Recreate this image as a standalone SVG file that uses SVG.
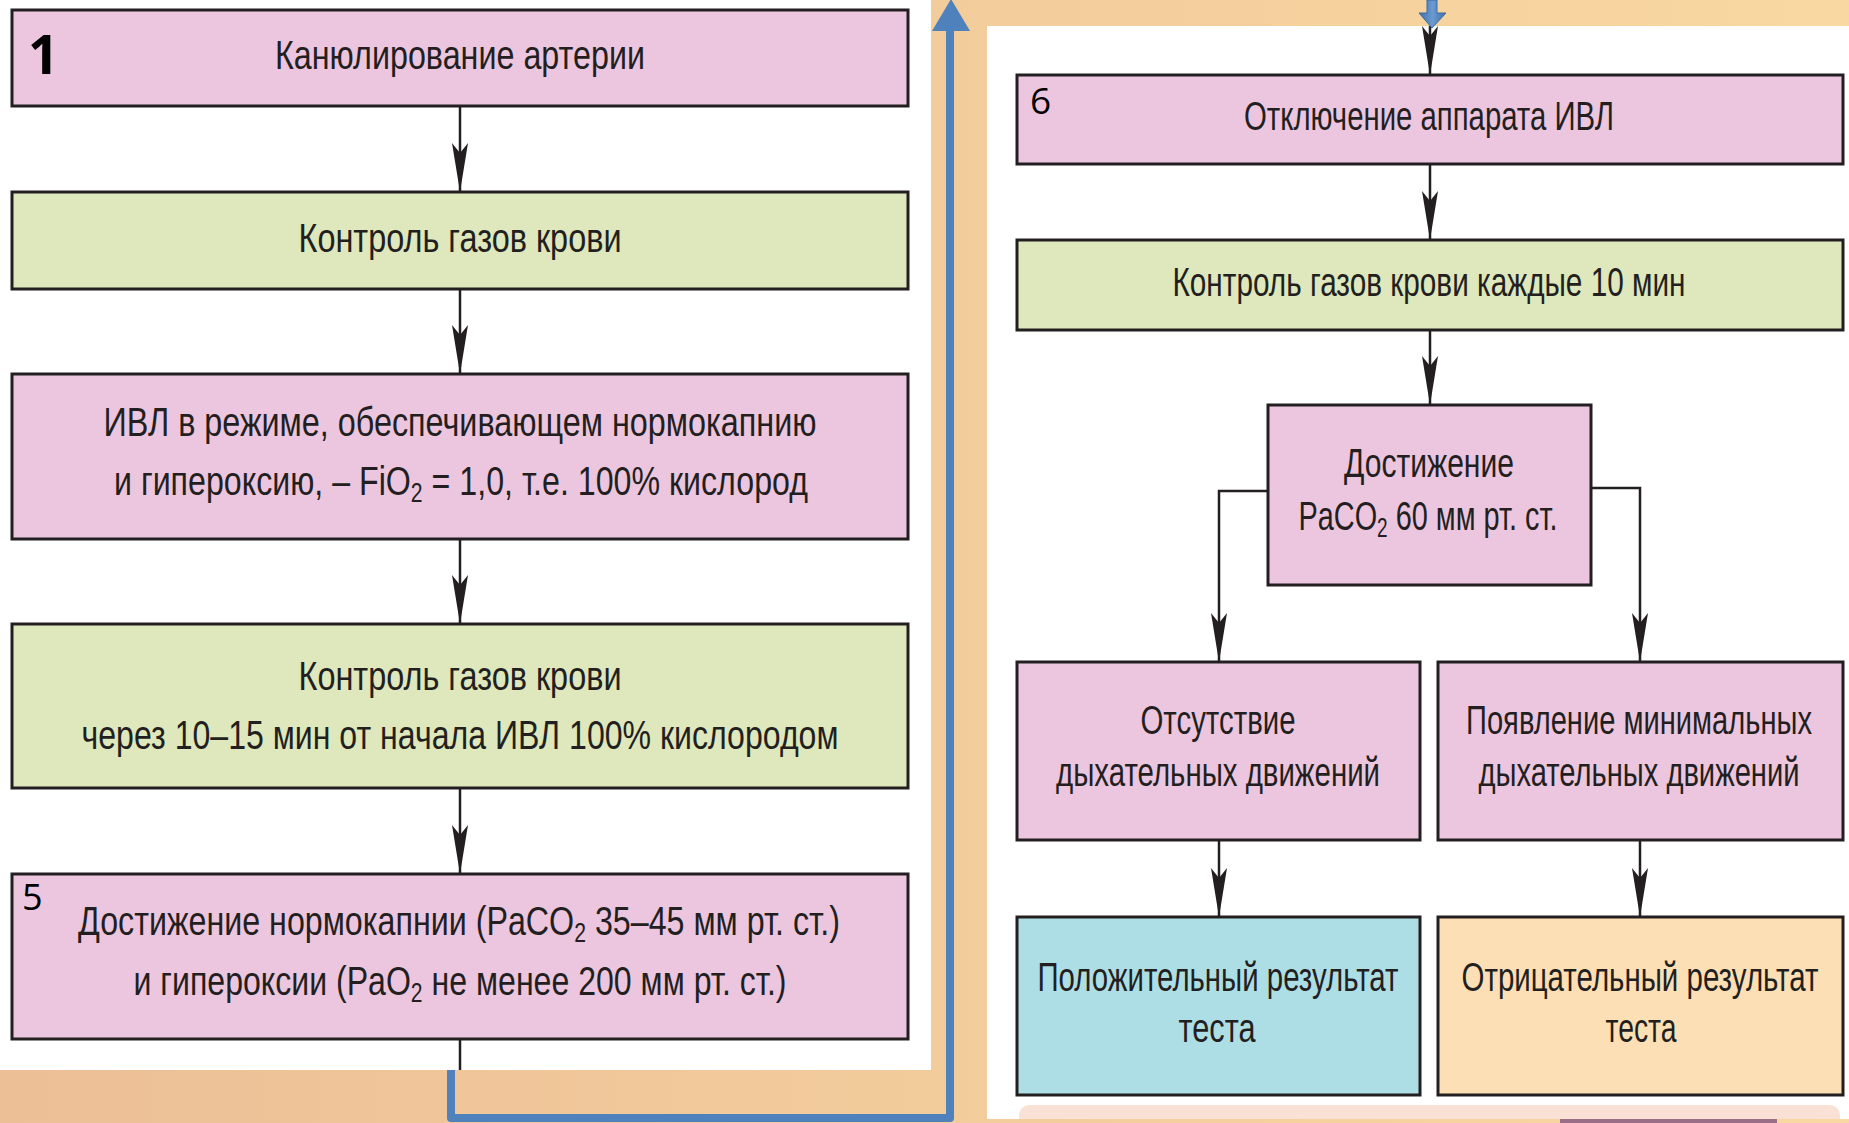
<svg xmlns="http://www.w3.org/2000/svg" width="1849" height="1123" viewBox="0 0 1849 1123">
<defs>
<linearGradient id="bg" x1="0" y1="0" x2="1" y2="0">
<stop offset="0" stop-color="#ECBF96"/>
<stop offset="1" stop-color="#F9D8A1"/>
</linearGradient>
<linearGradient id="blueg" x1="0" y1="0" x2="1" y2="0">
<stop offset="0" stop-color="#3F6FA8"/>
<stop offset="0.5" stop-color="#6A9AD0"/>
<stop offset="1" stop-color="#3F6FA8"/>
</linearGradient>
<marker id="ahv" markerWidth="16" markerHeight="50" refX="8" refY="49" orient="0" markerUnits="userSpaceOnUse" viewBox="0 0 16 50">
<path d="M8,49 L0,0 L8,10 L16,0 Z" fill="#231F20"/>
</marker>
</defs>
<style>
.box{stroke:#231F20;stroke-width:3}
.pink{fill:#ECC6DF}
.green{fill:#DEE8BC}
.cyan{fill:#ADDEE6}
.peach{fill:#FCDFB4}
.t{font-family:"Liberation Sans",Arial,sans-serif;font-size:41px;fill:#231F20;text-anchor:middle}
.sub{font-size:27px}
.num{font-family:"Open Sans","Liberation Sans",sans-serif;fill:#000}
.ln{stroke:#231F20;stroke-width:2.5;fill:none}
</style>

<rect x="0" y="0" width="1849" height="1123" fill="url(#bg)"/>
<rect x="0" y="0" width="931" height="1070" fill="#FFFFFF"/>
<rect x="987" y="26" width="862" height="1093" fill="#FFFFFF"/>
<path d="M1019,1119 V1117 Q1019,1105 1031,1105 H1828 Q1840,1105 1840,1117 V1119 Z" fill="#FAE1D5"/>
<rect x="1560" y="1119" width="217" height="4" fill="#9A6E86"/>

<g id="connectors">
<line class="ln" x1="460" y1="106" x2="460" y2="192" marker-end="url(#ahv)"/>
<line class="ln" x1="460" y1="289" x2="460" y2="374" marker-end="url(#ahv)"/>
<line class="ln" x1="460" y1="539" x2="460" y2="624" marker-end="url(#ahv)"/>
<line class="ln" x1="460" y1="788" x2="460" y2="874" marker-end="url(#ahv)"/>
<line class="ln" x1="460" y1="1039" x2="460" y2="1070"/>
<line class="ln" x1="1430" y1="26" x2="1430" y2="75" marker-end="url(#ahv)"/>
<line class="ln" x1="1430" y1="164" x2="1430" y2="240" marker-end="url(#ahv)"/>
<line class="ln" x1="1430" y1="330" x2="1430" y2="405" marker-end="url(#ahv)"/>
<polyline class="ln" points="1268,491 1219,491 1219,662" marker-end="url(#ahv)"/>
<polyline class="ln" points="1591,488 1640,488 1640,662" marker-end="url(#ahv)"/>
<line class="ln" x1="1219" y1="840" x2="1219" y2="917" marker-end="url(#ahv)"/>
<line class="ln" x1="1640" y1="840" x2="1640" y2="917" marker-end="url(#ahv)"/>
<path d="M451,1070 V1118 H950 V28" fill="none" stroke="#4F81BD" stroke-width="8" stroke-linejoin="round"/>
<polygon points="932,31 970,31 951,-1" fill="#4F81BD"/>
<path d="M1427,0 H1437 V13 H1446 L1432,28 L1419,13 H1427 Z" fill="url(#blueg)" stroke="#3A6AA3" stroke-width="1"/>
</g>

<g id="n1">
<rect class="box pink" x="12" y="10" width="896" height="96"/>
<text class="num" x="28" y="74" font-size="54" font-weight="bold">1</text>
<text class="t" x="460" y="69" textLength="370" lengthAdjust="spacingAndGlyphs">Канюлирование артерии</text>
</g>
<g id="n2">
<rect class="box green" x="12" y="192" width="896" height="97"/>
<text class="t" x="460" y="252" textLength="323" lengthAdjust="spacingAndGlyphs">Контроль газов крови</text>
</g>
<g id="n3">
<rect class="box pink" x="12" y="374" width="896" height="165"/>
<text class="t" x="460" y="436" textLength="713" lengthAdjust="spacingAndGlyphs">ИВЛ в режиме, обеспечивающем нормокапнию</text>
<text class="t" x="461" y="495" textLength="694" lengthAdjust="spacingAndGlyphs">и гипероксию, – FiO<tspan class="sub" dy="7">2</tspan><tspan dy="-7"> = 1,0, т.е. 100% кислород</tspan></text>
</g>
<g id="n4">
<rect class="box green" x="12" y="624" width="896" height="164"/>
<text class="t" x="460" y="690" textLength="323" lengthAdjust="spacingAndGlyphs">Контроль газов крови</text>
<text class="t" x="460" y="749" textLength="757" lengthAdjust="spacingAndGlyphs">через 10–15 мин от начала ИВЛ 100% кислородом</text>
</g>
<g id="n5">
<rect class="box pink" x="12" y="874" width="896" height="165"/>
<text class="num" x="22" y="910" font-size="36">5</text>
<text class="t" x="459" y="935" textLength="762" lengthAdjust="spacingAndGlyphs">Достижение нормокапнии (PaCO<tspan class="sub" dy="7">2</tspan><tspan dy="-7"> 35–45 мм рт. ст.)</tspan></text>
<text class="t" x="460" y="995" textLength="653" lengthAdjust="spacingAndGlyphs">и гипероксии (PaO<tspan class="sub" dy="7">2</tspan><tspan dy="-7"> не менее 200 мм рт. ст.)</tspan></text>
</g>

<g id="n6">
<rect class="box pink" x="1017" y="75" width="826" height="89"/>
<text class="num" x="1030" y="114" font-size="37">6</text>
<text class="t" x="1429" y="130" textLength="370" lengthAdjust="spacingAndGlyphs">Отключение аппарата ИВЛ</text>
</g>
<g id="n7">
<rect class="box green" x="1017" y="240" width="826" height="90"/>
<text class="t" x="1429" y="296" textLength="513" lengthAdjust="spacingAndGlyphs">Контроль газов крови каждые 10 мин</text>
</g>
<g id="n8">
<rect class="box pink" x="1268" y="405" width="323" height="180"/>
<text class="t" x="1429" y="477" textLength="170" lengthAdjust="spacingAndGlyphs">Достижение</text>
<text class="t" x="1428" y="530" textLength="259" lengthAdjust="spacingAndGlyphs">PaCO<tspan class="sub" dy="7">2</tspan><tspan dy="-7"> 60 мм рт. ст.</tspan></text>
</g>
<g id="n9">
<rect class="box pink" x="1017" y="662" width="403" height="178"/>
<text class="t" x="1218" y="734" textLength="155" lengthAdjust="spacingAndGlyphs">Отсутствие</text>
<text class="t" x="1218" y="786" textLength="324" lengthAdjust="spacingAndGlyphs">дыхательных движений</text>
</g>
<g id="n10">
<rect class="box pink" x="1438" y="662" width="405" height="178"/>
<text class="t" x="1639" y="734" textLength="346" lengthAdjust="spacingAndGlyphs">Появление минимальных</text>
<text class="t" x="1639" y="786" textLength="321" lengthAdjust="spacingAndGlyphs">дыхательных движений</text>
</g>
<g id="n11">
<rect class="box cyan" x="1017" y="917" width="403" height="178"/>
<text class="t" x="1218" y="991" textLength="361" lengthAdjust="spacingAndGlyphs">Положительный результат</text>
<text class="t" x="1217" y="1042" textLength="77" lengthAdjust="spacingAndGlyphs">теста</text>
</g>
<g id="n12">
<rect class="box peach" x="1438" y="917" width="405" height="178"/>
<text class="t" x="1640" y="991" textLength="357" lengthAdjust="spacingAndGlyphs">Отрицательный результат</text>
<text class="t" x="1641" y="1042" textLength="71" lengthAdjust="spacingAndGlyphs">теста</text>
</g>
</svg>
